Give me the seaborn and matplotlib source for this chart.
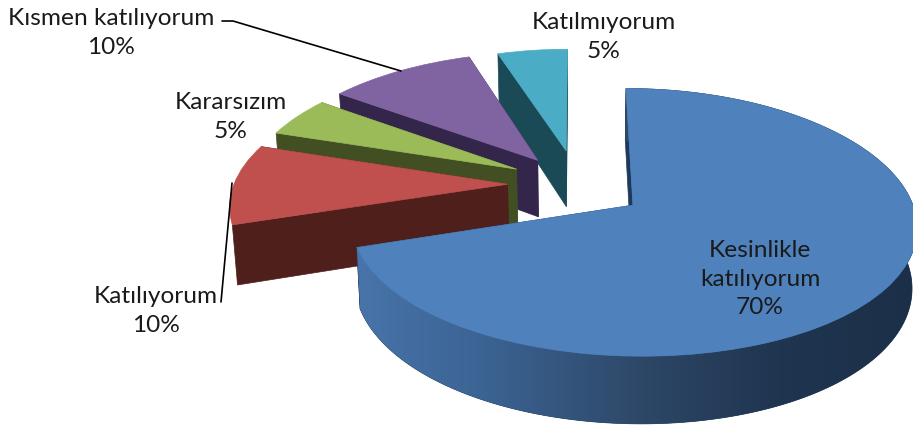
import numpy as np
import matplotlib
matplotlib.use("Agg")
import matplotlib.pyplot as plt
from matplotlib.colors import LinearSegmentedColormap
from matplotlib.patches import Polygon
from matplotlib.transforms import Transform
import seaborn as sns

categories = ["Kesinlikle\nkatılıyorum", "Katılıyorum", "Kararsızım", "Kısmen katılıyorum", "Katılmıyorum"]
shares = [70, 10, 5, 10, 5]
percent_labels = ["70%", "10%", "5%", "10%", "5%"]
explode = [0.245, 0.26, 0.27, 0.26, 0.29]
radii = [1.01, 1.01, 1.0, 1.02, 0.97]
shift_x = [0, 0, 0.01, 0, 0]
shift_y = [0.01, 0.03, 0.03, 0.015, 0.02]
top_colors = ["#4f81bd", "#c0504d", "#9bbb59", "#8064a2", "#4bacc6"]
wall_colors = ["#1d3a5c", "#4f1f1c", "#414f23", "#33264a", "#1b4a57"]
blue_wall = ["#4874aa", "#3a6190", "#2e4868", "#1f3550", "#1c2f48"]

# fake camera for the tilted pie, numbers found by trial
CX, CY = 578, 188
SX, SY = 272, 126
KX, KY = 0.14, 0.125
DEPTH = 58
CONVERGE = 0.015


class Tilt(Transform):
    input_dims = output_dims = 2

    def transform_non_affine(self, xy):
        xy = np.asarray(xy, float)
        return np.column_stack([CX + SX * xy[:, 0] / (1 + KX * xy[:, 1]),
                                CY - SY * xy[:, 1] / (1 + KY * xy[:, 1])])


tilt = Tilt()


def drop(xy):
    # screen position of the pie's underside
    out = tilt.transform(xy)
    out[:, 0] += CONVERGE * (CX - out[:, 0])
    out[:, 1] += DEPTH / (1 + KY * xy[:, 1])
    return out


def wall(xy):
    return np.vstack([tilt.transform(xy), drop(xy)[::-1]])


sns.set_theme(style="white")
plt.rcParams["font.family"] = ["Lato", "DejaVu Sans"]

fig = plt.figure(figsize=(9.13, 4.33), dpi=100)
ax = fig.add_axes([0, 0, 1, 1])
wedges, _ = ax.pie(shares, explode=explode, colors=top_colors, startangle=90, counterclock=False)
ax.set_aspect("auto")
ax.axis("off")

cmap = LinearSegmentedColormap.from_list("blue_wall", sns.blend_palette(blue_wall, 64))
draw_order = [4, 3, 2, 1, 0]
for z, i in enumerate(draw_order):
    w = wedges[i]
    w.set_radius(radii[i])
    w.set_center((w.center[0] + shift_x[i], w.center[1] + shift_y[i]))
    centre = np.array(w.center)
    t = np.deg2rad(np.linspace(w.theta1, w.theta2, 200))
    arc = centre + w.r * np.column_stack([np.cos(t), np.sin(t)])
    base = z * 10 + 2
    for end in (arc[0], arc[-1]):
        side = wall(np.array([centre, end]))
        ax.add_patch(Polygon(side, closed=True, fc=wall_colors[i], ec=wall_colors[i], lw=0.5, zorder=base))
    # only the big slice shows its curved rim
    if i == 0:
        rim = Polygon(wall(arc), closed=True, fc=wall_colors[i], ec=wall_colors[i], lw=0.5, zorder=base + 1)
        ax.add_patch(rim)
        pts = rim.get_xy()
        grad = ax.imshow(np.linspace(0, 1, 256)[None, :], cmap=cmap, aspect="auto", zorder=base + 2,
                         extent=[pts[:, 0].min(), pts[:, 0].max(), pts[:, 1].max(), pts[:, 1].min()])
        grad.set_clip_path(rim)
    w.set_transform(tilt + ax.transData)
    w.set_zorder(base + 3)
    w.set_edgecolor(top_colors[i])
    w.set_linewidth(0.5)
ax.set_xlim(0, 913)
ax.set_ylim(433, 0)

ink = "#1a1a1a"
# leader lines
ax.plot([222, 233, 401], [21, 21, 71], color="black", lw=1.2, zorder=60)
ax.plot([221, 232], [302, 183], color="black", lw=1.2, zorder=60)

label_pos = [(760, 279), (156, 311), (231, 117), (111, 33), (604, 37)]
for name, pct, (x, y) in zip(categories, percent_labels, label_pos):
    ax.text(x, y, name + "\n" + pct, ha="center", va="center", fontsize=17.6, color=ink,
            linespacing=1.42, zorder=70)

fig.savefig("out.png", dpi=100)
